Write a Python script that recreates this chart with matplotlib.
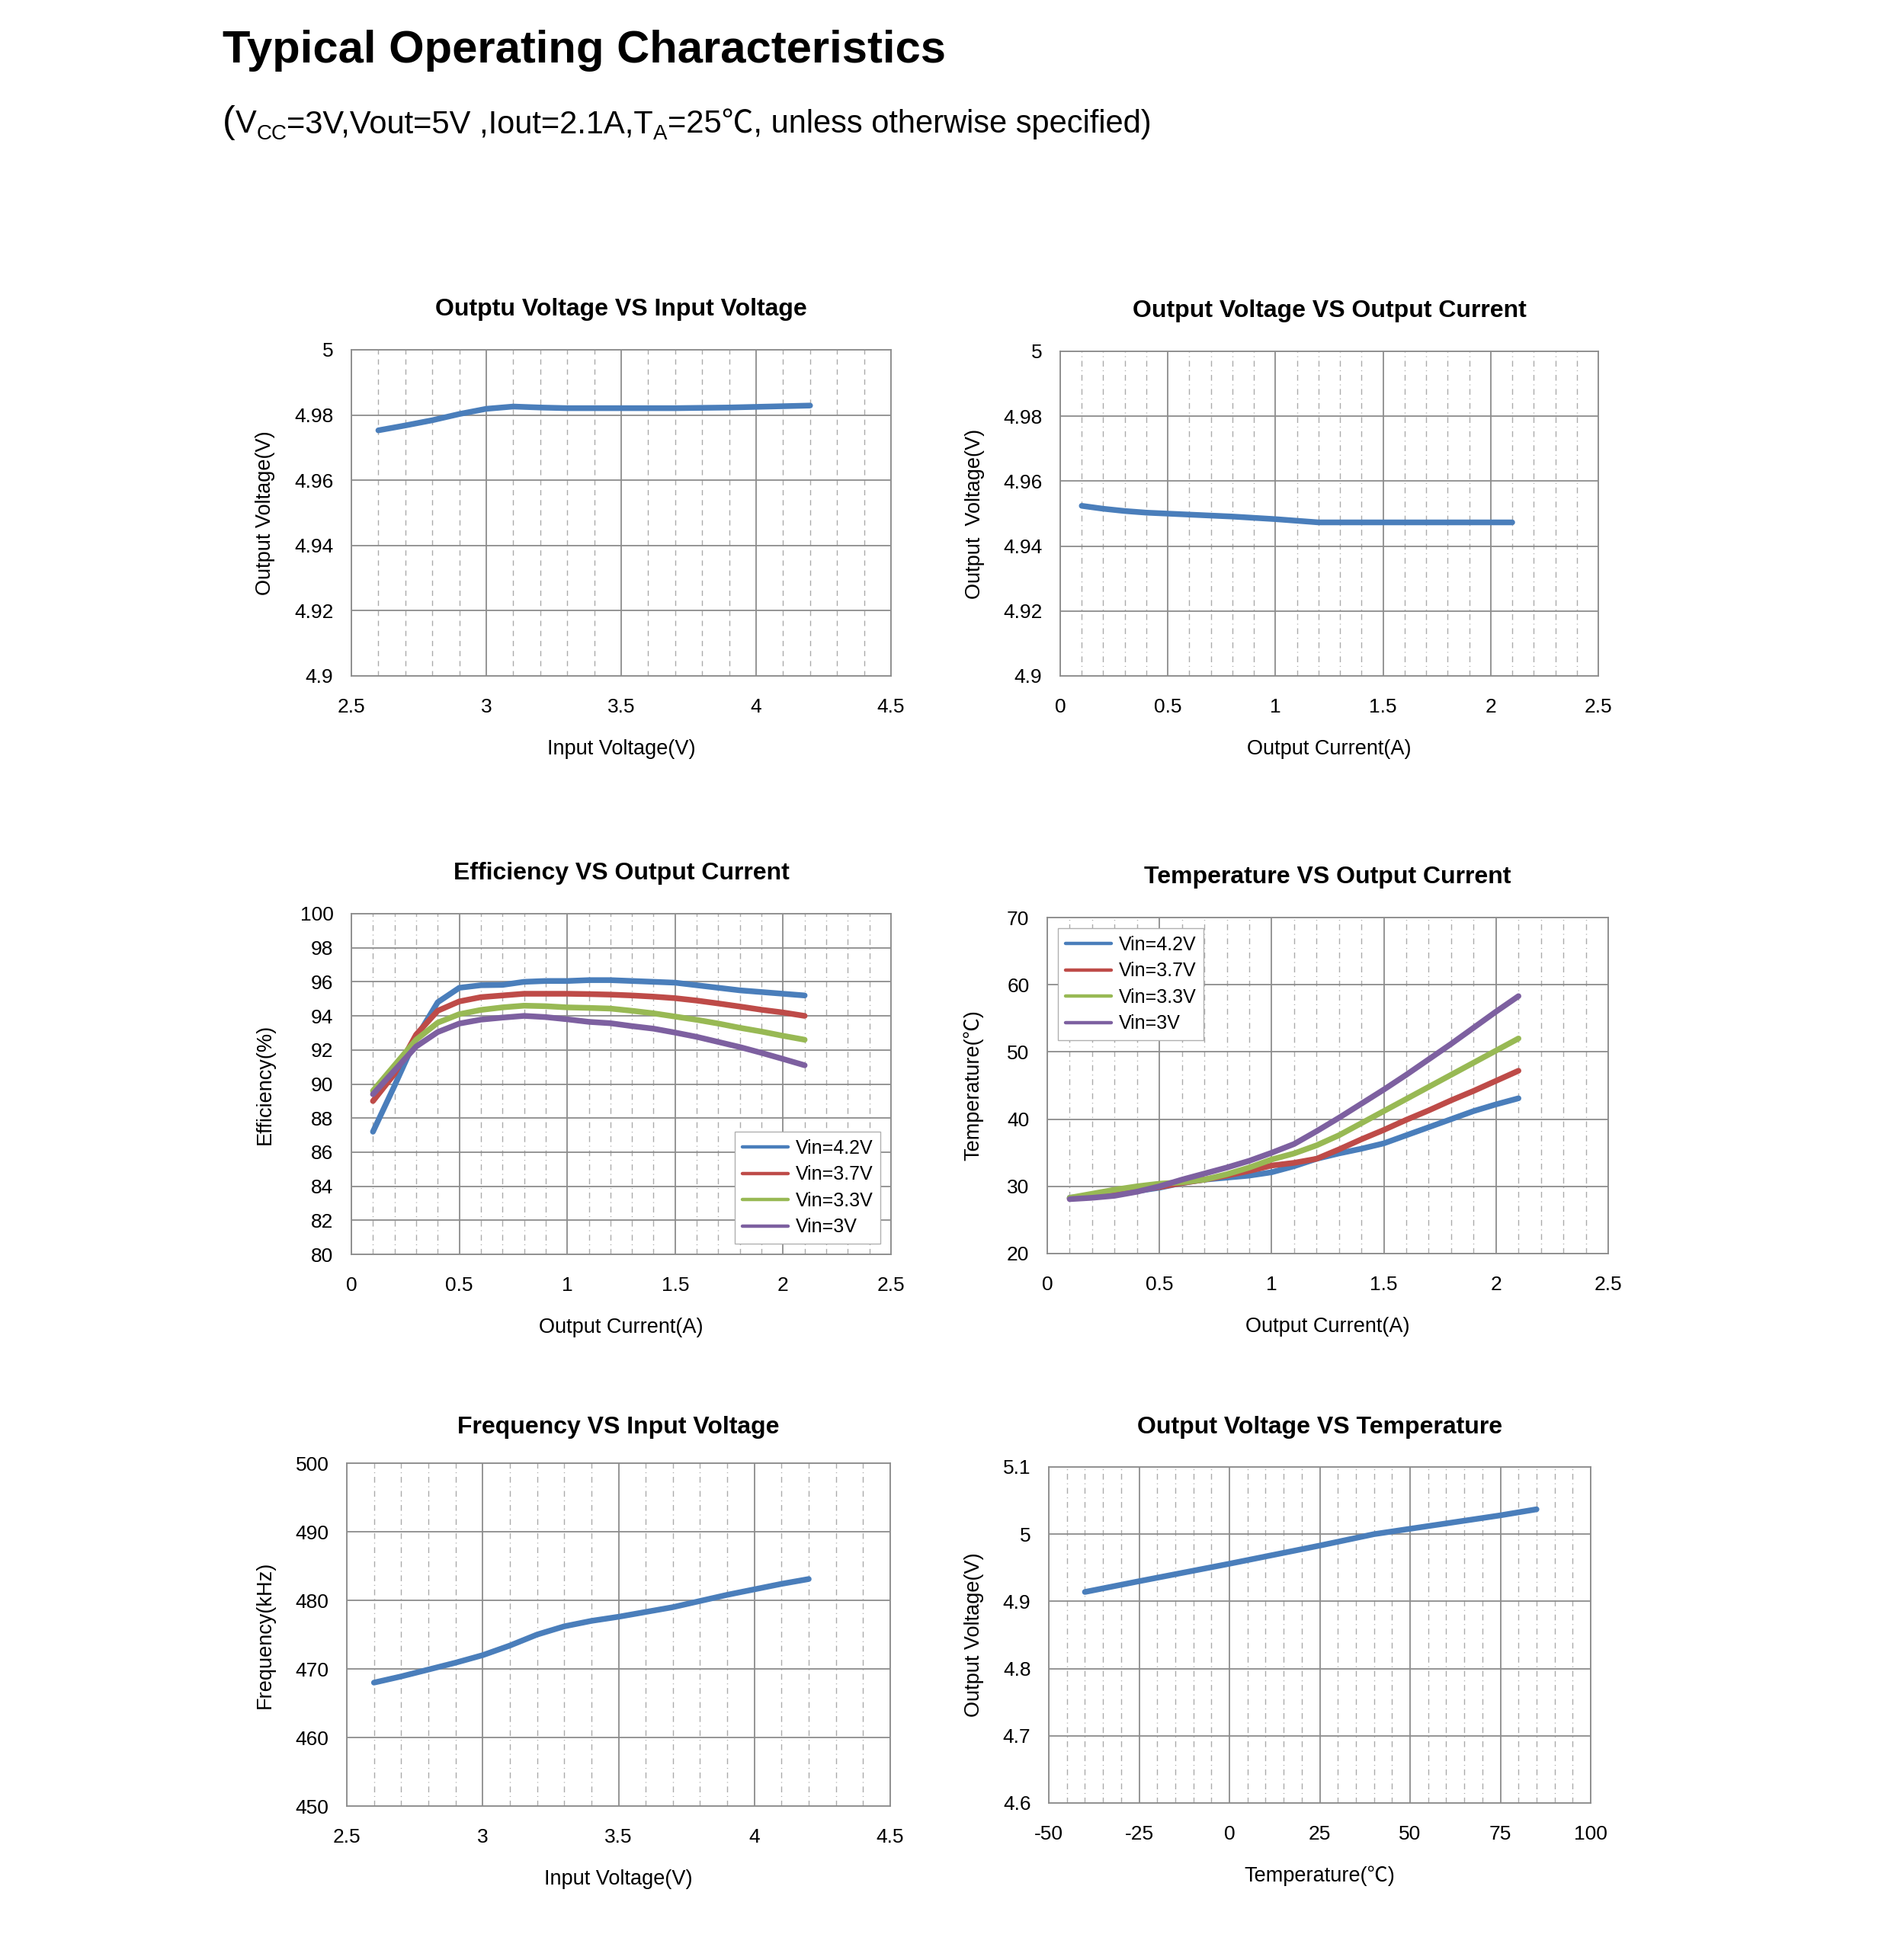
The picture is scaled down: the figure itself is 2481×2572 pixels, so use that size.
import matplotlib
matplotlib.use('Agg')
import matplotlib.pyplot as plt
from matplotlib.ticker import MultipleLocator, FuncFormatter

###############################################################################
# Data
###############################################################################
# Output voltage vs input voltage
VIN_1 = [2.6, 2.7, 2.8, 2.9, 3.0, 3.1, 3.2, 3.3, 3.5, 3.7, 3.9, 4.0, 4.2]
VOUT_1 = [4.9753, 4.9768, 4.9784, 4.9803, 4.9819, 4.9826, 4.9823, 4.9821,
          4.9821, 4.9821, 4.9823, 4.9825, 4.9829]

# Output voltage vs output current
IOUT_2 = [0.1, 0.2, 0.3, 0.4, 0.5, 0.6, 0.8, 1.0, 1.1, 1.2, 1.5, 1.8, 2.1]
VOUT_2 = [4.9524, 4.9515, 4.9508, 4.9503, 4.9500, 4.9497, 4.9491, 4.9483,
          4.9478, 4.9473, 4.9473, 4.9473, 4.9473]

# Efficiency vs output current
IOUT = [0.1, 0.2, 0.3, 0.4, 0.5, 0.6, 0.7, 0.8, 0.9, 1.0, 1.1,
        1.2, 1.3, 1.4, 1.5, 1.6, 1.7, 1.8, 1.9, 2.0, 2.1]
VIN_LABELS = ['Vin=4.2V', 'Vin=3.7V', 'Vin=3.3V', 'Vin=3V']
EFF_42 = [87.2, 89.9, 92.7, 94.8, 95.65, 95.8, 95.82, 96.0, 96.05, 96.05, 96.1,
          96.1, 96.05, 96.0, 95.95, 95.8, 95.65, 95.5, 95.4, 95.3, 95.2]
EFF_37 = [89.0, 90.6, 92.9, 94.3, 94.85, 95.1, 95.2, 95.3, 95.3, 95.3, 95.28,
          95.25, 95.2, 95.13, 95.04, 94.9, 94.73, 94.55, 94.36, 94.2, 94.0]
EFF_33 = [89.6, 91.1, 92.6, 93.6, 94.1, 94.35, 94.5, 94.6, 94.57, 94.5, 94.47,
          94.43, 94.3, 94.15, 93.96, 93.77, 93.55, 93.3, 93.08, 92.83, 92.6]
EFF_30 = [89.4, 90.8, 92.2, 93.05, 93.55, 93.78, 93.9, 94.0, 93.93, 93.8, 93.65,
          93.57, 93.4, 93.25, 93.02, 92.77, 92.47, 92.17, 91.83, 91.47, 91.1]

# Temperature vs output current
TEMP_42 = [28.3, 28.6, 28.9, 29.3, 29.8, 30.5, 31.0, 31.3, 31.6, 32.1, 33.0,
           34.1, 34.9, 35.6, 36.4, 37.6, 38.8, 40.0, 41.2, 42.2, 43.1]
TEMP_37 = [28.2, 28.5, 28.9, 29.4, 29.9, 30.5, 31.0, 31.6, 32.3, 33.1, 33.5,
           34.1, 35.5, 37.0, 38.4, 39.9, 41.3, 42.8, 44.2, 45.7, 47.2]
TEMP_33 = [28.3, 28.9, 29.5, 30.0, 30.4, 30.6, 31.0, 31.8, 32.8, 34.0, 34.9,
           36.1, 37.6, 39.4, 41.2, 43.0, 44.8, 46.6, 48.4, 50.2, 52.0]
TEMP_30 = [28.1, 28.3, 28.6, 29.2, 30.0, 31.0, 31.9, 32.8, 33.8, 35.0, 36.3,
           38.2, 40.2, 42.3, 44.4, 46.6, 48.9, 51.2, 53.6, 56.0, 58.3]

# Switching frequency vs input voltage
VIN_5 = [2.6, 2.7, 2.8, 2.9, 3.0, 3.1, 3.2, 3.3, 3.4, 3.5, 3.6, 3.7, 3.8,
         3.9, 4.0, 4.1, 4.2]
FREQ_5 = [468.0, 468.9, 469.9, 470.9, 472.0, 473.4, 475.0, 476.2, 477.0,
          477.6, 478.3, 479.0, 479.9, 480.8, 481.6, 482.4, 483.1]

# Output voltage vs temperature
TA_6 = [-40, -25, 0, 25, 40, 50, 75, 85]
VOUT_6 = [4.914, 4.930, 4.956, 4.983, 5.000, 5.008, 5.028, 5.037]

###############################################################################
# Style
###############################################################################
W, H, DPI = 2481, 2572, 100
FONT = ['Liberation Sans Narrow', 'Liberation Sans', 'Noto Sans CJK SC',
        'DejaVu Sans']
plt.rcParams['font.family'] = FONT
COLORS = ['#4A7EBB', '#BE4B48', '#98B954', '#7D60A0']
GRID = '#8C8C8C'
MINOR = '#ABABAB'
LW = 5.4

fig = plt.figure(figsize=(W / DPI, H / DPI), dpi=DPI)


def fmt(v, pos):
    return '{:g}'.format(round(v, 6))


def make_axes(box, xlim, xstep, xminor, ylim, ystep, xlabel, ylabel, title,
              ylab_off, title_off, dashes):
    (l, t, r, b) = box
    ax = fig.add_axes([l / W, 1 - b / H, (r - l) / W, (b - t) / H])
    ax.set_xlim(*xlim)
    ax.set_ylim(*ylim)
    ax.xaxis.set_major_locator(MultipleLocator(xstep))
    ax.xaxis.set_minor_locator(MultipleLocator(xminor))
    ax.yaxis.set_major_locator(MultipleLocator(ystep))
    ax.xaxis.set_major_formatter(FuncFormatter(fmt))
    ax.yaxis.set_major_formatter(FuncFormatter(fmt))
    ax.grid(True, which='major', color=GRID, lw=1.3)
    ax.grid(True, which='minor', axis='x', color=MINOR, lw=1.0,
            linestyle=dashes)
    ax.set_axisbelow(True)
    for s in ax.spines.values():
        s.set_color(GRID)
        s.set_linewidth(1.3)
    ax.tick_params(which='both', length=0, labelsize=19)
    ax.tick_params(axis='x', pad=21)
    ax.tick_params(axis='y', pad=17)
    ax.set_xlabel(xlabel, fontsize=19.5, va='center')
    ax.set_ylabel(ylabel, fontsize=19.5, va='center')
    ax.xaxis.set_label_coords(0.5, -96 / (b - t))
    ax.yaxis.set_label_coords(-ylab_off / (r - l), 0.5)
    ax.annotate(title, xy=(0.5, 1), xycoords='axes fraction',
                xytext=(0, title_off * 0.72), textcoords='offset points',
                ha='center', va='center', fontsize=23, fontweight='bold')
    return ax


def add_legend(ax, loc):
    leg = ax.legend(loc=loc, fontsize=18, fancybox=False,
                    edgecolor='#B0B0B0', framealpha=1, handlelength=2.4,
                    handletextpad=0.4, labelspacing=0.42, borderaxespad=0.55,
                    borderpad=0.4)
    for h in leg.get_lines():
        h.set_linewidth(3.2)
    return leg


DASH = (0, (5, 4.5))
DASHDOT = (0, (5.5, 3.5, 0.8, 3.5))

# 1. Output voltage vs input voltage
ax1 = make_axes((461, 459, 1169, 887), (2.5, 4.5), 0.5, 0.1, (4.9, 5.0), 0.02,
                'Input Voltage(V)', 'Output Voltage(V)',
                'Outptu Voltage VS Input Voltage', 113, 53, DASH)
ax1.plot(VIN_1, VOUT_1, color=COLORS[0], lw=LW, solid_capstyle='round',
         solid_joinstyle='round')

# 2. Output voltage vs output current
ax2 = make_axes((1391, 461, 2097, 887), (0, 2.5), 0.5, 0.1, (4.9, 5.0), 0.02,
                'Output Current(A)', 'Output  Voltage(V)',
                'Output Voltage VS Output Current', 112, 53, DASHDOT)
ax2.plot(IOUT_2, VOUT_2, color=COLORS[0], lw=LW, solid_capstyle='round',
         solid_joinstyle='round')

# 3. Efficiency vs output current
ax3 = make_axes((461, 1199, 1169, 1646), (0, 2.5), 0.5, 0.1, (80, 100), 2,
                'Output Current(A)', 'Efficiency(%)',
                'Efficiency VS Output Current', 113, 53, DASHDOT)
for (vals, c, lab) in zip([EFF_42, EFF_37, EFF_33, EFF_30], COLORS, VIN_LABELS):
    ax3.plot(IOUT, vals, color=c, lw=LW, label=lab, solid_capstyle='round',
             solid_joinstyle='round')
add_legend(ax3, 'lower right')

# 4. Temperature vs output current
ax4 = make_axes((1374, 1204, 2110, 1645), (0, 2.5), 0.5, 0.1, (20, 70), 10,
                'Output Current(A)', 'Temperature(℃)',
                'Temperature VS Output Current', 97, 53, DASHDOT)
for (vals, c, lab) in zip([TEMP_42, TEMP_37, TEMP_33, TEMP_30], COLORS,
                          VIN_LABELS):
    ax4.plot(IOUT, vals, color=c, lw=LW, label=lab, solid_capstyle='round',
             solid_joinstyle='round')
add_legend(ax4, 'upper left')

# 5. Frequency vs input voltage
ax5 = make_axes((455, 1920, 1168, 2370), (2.5, 4.5), 0.5, 0.1, (450, 500), 10,
                'Input Voltage(V)', 'Frequency(kHz)',
                'Frequency VS Input Voltage', 107, 47, DASHDOT)
ax5.plot(VIN_5, FREQ_5, color=COLORS[0], lw=LW, solid_capstyle='round',
         solid_joinstyle='round')

# 6. Output voltage vs temperature
ax6 = make_axes((1376, 1925, 2087, 2366), (-50, 100), 25, 5, (4.6, 5.1), 0.1,
                'Temperature(℃)', 'Output Voltage(V)',
                'Output Voltage VS Temperature', 98, 52, DASHDOT)
ax6.plot(TA_6, VOUT_6, color=COLORS[0], lw=LW, solid_capstyle='round',
         solid_joinstyle='round')

###############################################################################
# Heading
###############################################################################
fig.text(292 / W, 1 - 82 / H, 'Typical Operating Characteristics',
         fontsize=43, fontweight='bold', ha='left', va='baseline')

renderer = fig.canvas.get_renderer()
pieces = [('(', 36, 0), ('V', 30, 0), ('CC', 20, -9),
          ('=3V,Vout=5V ,Iout=2.1A,T', 30, 0), ('A', 20, -9),
          ('=25℃, unless otherwise specified)', 30, 0)]
x = 292
for (txt, size, dy) in pieces:
    t = fig.text(x / W, 1 - (174 - dy) / H, txt, fontsize=size,
                 ha='left', va='baseline')
    x += t.get_window_extent(renderer).width

fig.savefig('out.png', dpi=DPI, facecolor='white')
